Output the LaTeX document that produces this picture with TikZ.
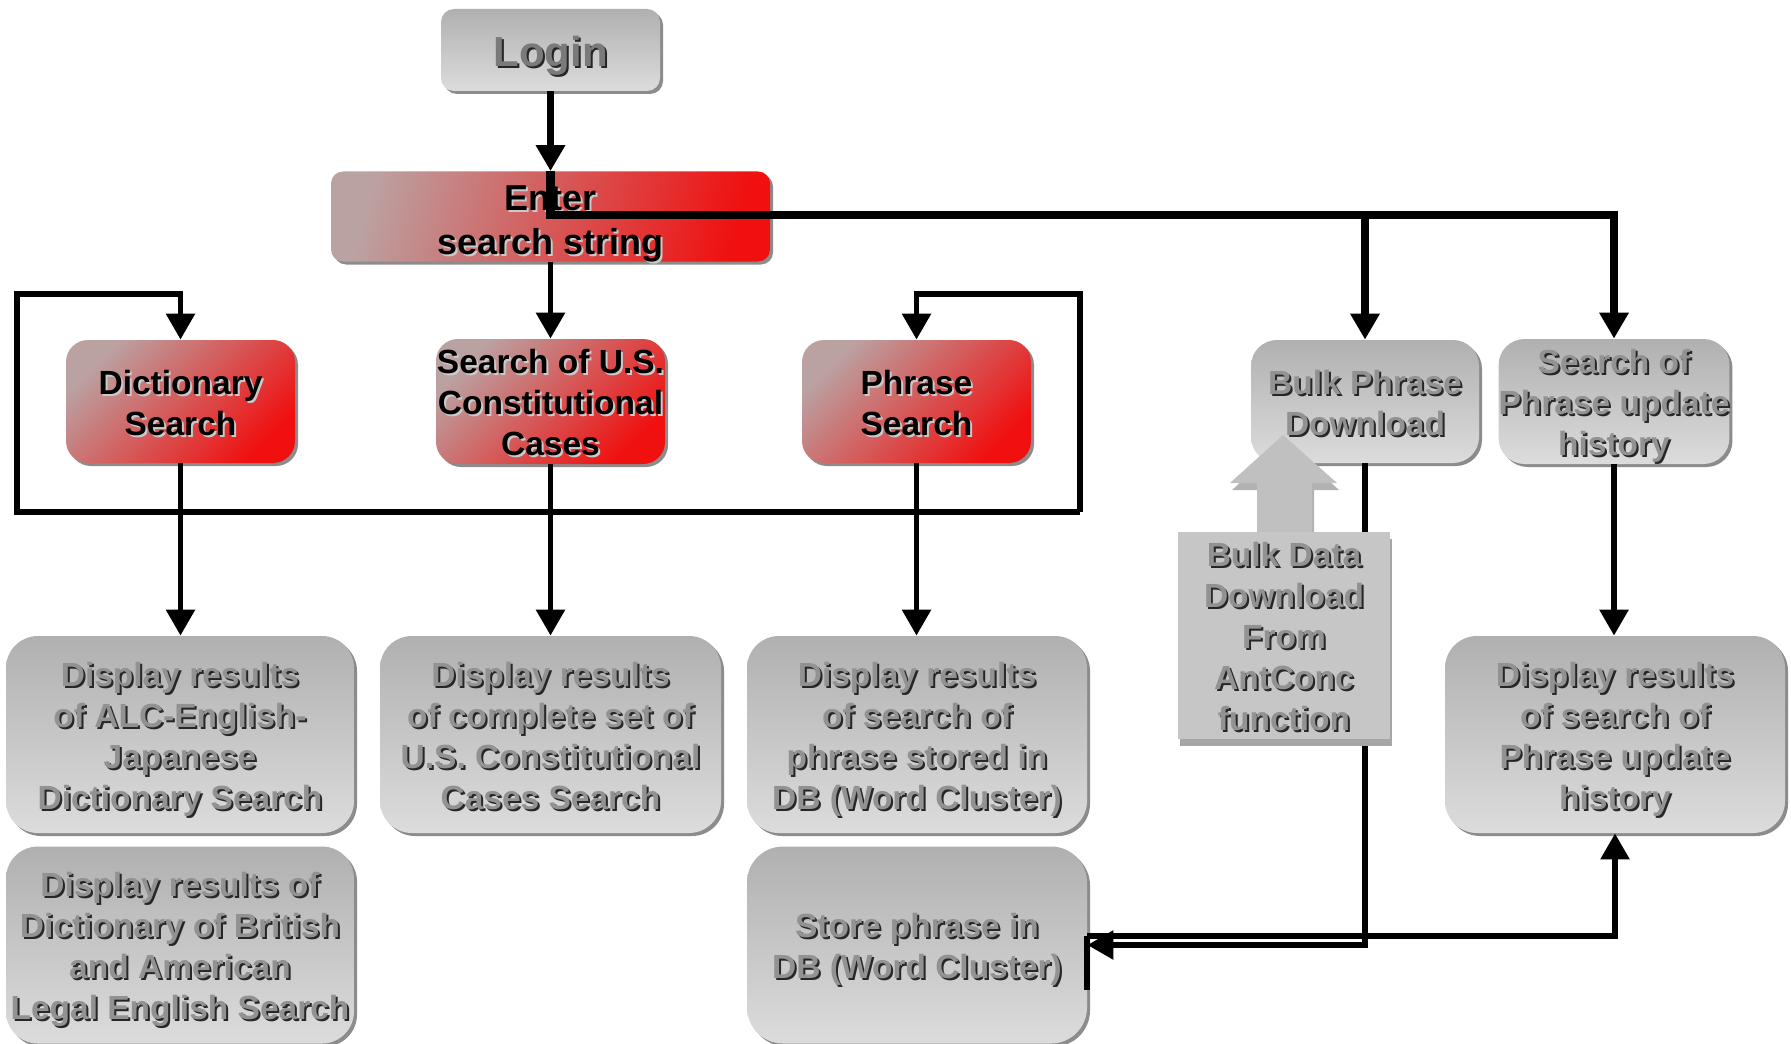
\documentclass[tikz,border=0pt]{standalone}
\usepackage{fontspec}
\setmainfont{Liberation Sans}
\usetikzlibrary{arrows.meta,shadows}
\definecolor{gT}{HTML}{B0B0B0}
\definecolor{gB}{HTML}{DCDCDC}
\definecolor{rTL}{HTML}{BBA2A2}
\definecolor{rBR}{HTML}{F01010}
\definecolor{shd}{HTML}{8C8C8C}
\definecolor{gtxt}{HTML}{929292}
\definecolor{gsh}{HTML}{262626}
\definecolor{logintxt}{HTML}{7A7A7A}
\definecolor{rsh}{HTML}{CACACA}
\definecolor{bdfill}{HTML}{C6C6C6}
\definecolor{bdsh}{HTML}{A6A6A6}
\definecolor{bigarr}{HTML}{C0C0C0}
\definecolor{bigarrsh}{HTML}{B2B2B2}
\newcommand\shtxt[4][3pt]{\raisebox{-#1}[\height][\depth]{\leavevmode\rlap{\kern1pt\raisebox{-1pt}{\color{#3}\begin{tabular}{@{}c@{}}#4\end{tabular}}}{\color{#2}\begin{tabular}{@{}c@{}}#4\end{tabular}}}}
\newcommand\gtx[1]{\shtxt{gtxt}{gsh}{#1}}
\newcommand\rtx[1]{\shtxt{black}{rsh}{#1}}
\newcommand\myBodyFont{\fontsize{16.75pt}{20.5pt}\selectfont\bfseries}
\begin{document}
\begin{tikzpicture}[x=0.5pt,y=-0.5pt,
  line/.style={line width=2.9pt, line join=miter},
  arr/.style={line, -{Triangle[width=14pt,length=13pt]}},
  bus/.style={line width=4.3pt},
  gbox/.style={rounded corners=13pt, top color=gT, bottom color=gB, draw=none,
    drop shadow={shadow xshift=1.5pt,shadow yshift=-1.5pt,fill=shd,opacity=1},
    inner sep=0pt, font=\myBodyFont},
  rbox/.style={rounded corners=11pt, top color=rTL, bottom color=rBR, shading angle=45, draw=none,
    drop shadow={shadow xshift=1.5pt,shadow yshift=-1.5pt,fill=shd,opacity=1},
    inner sep=0pt, font=\myBodyFont, minimum width=114.5pt, minimum height=61.5pt},
  small/.style={minimum width=114pt, minimum height=61.5pt},
  disp/.style={gbox, rounded corners=16pt, minimum width=170pt, minimum height=98.5pt}
]
\fill[white] (0,0) rectangle (1791,1043);
\useasboundingbox (0,0) rectangle (1791,1043);

% nodes
\node[gbox, rounded corners=6.5pt, minimum width=109.5pt, minimum height=41pt,
  font=\fontsize{21pt}{25pt}\selectfont\bfseries] (login) at (550.5,50) {\shtxt[4pt]{logintxt}{gsh}{Login}};
\node[rbox, rounded corners=6pt, top color=rTL, bottom color=rBR, shading angle=75,
  minimum width=219.5pt, minimum height=41.5pt,
  font=\fontsize{18pt}{22pt}\selectfont\bfseries] (enter) at (550.5,216.5) {\shtxt[4pt]{black}{rsh}{Enter\\search string}};

\node[rbox] (dict) at (180.5,401.5) {\rtx{Dictionary\\Search}};
\node[rbox] (usc) at (550.5,401.5) {\rtx{Search of U.S.\\Constitutional\\Cases}};
\node[rbox] (phr) at (916.5,401.5) {\rtx{Phrase\\Search}};
\node[gbox, small] (bulk) at (1365,401.5) {\gtx{Bulk Phrase\\Download}};
\node[gbox, small] (updh) at (1614,401.5) {\gtx{Search of\\Phrase update\\history}};

\node[disp, minimum width=174pt] (dalc) at (180,734.5) {\gtx{Display results\\of ALC-English-\\Japanese\\Dictionary Search}};
\node[disp, minimum width=170.5pt] (dusc) at (550.5,734.5) {\gtx{Display results\\of complete set of\\U.S. Constitutional\\Cases Search}};
\node[disp] (dphr) at (917,734.5) {\gtx{Display results\\of search of\\phrase stored in\\DB (Word Cluster)}};
\node[disp] (dupd) at (1615,734.5) {\gtx{Display results\\of search of\\Phrase update\\history}};
\node[disp, minimum width=174pt] (dbrit) at (180,945) {\gtx{Display results of\\Dictionary of British\\and American\\Legal English Search}};
\node[disp, rounded corners=18pt] (dstore) at (917,945) {\gtx{Store phrase in\\DB (Word Cluster)}};

% connectors
\coordinate (hj) at (550.5,215);
\coordinate (lt) at (17,294);
\coordinate (lb) at (17,512);
\coordinate (rb) at (1080,512);
\coordinate (rt) at (1080,294);
\coordinate (so) at (1087,936);
\coordinate (se) at (1087,990);

\draw[arr, line width=3.3pt] (login) -- (enter);
\draw[arr, bus] (enter.north) -- (hj) -| (updh.north);
\draw[arr, line width=4pt] (bulk.north |- hj) -- (bulk.north);
\draw[arr] (enter) -- (usc);
\draw[arr] (rb) -- (lb) -- (lt) -| (dict.north);
\draw[arr] (rb) -- (rt) -| (phr.north);
\draw[arr] (dict.south) -- (dict.south |- dalc.north);
\draw[arr] (usc.south) -- (usc.south |- dusc.north);
\draw[arr] (phr.south) -- (phr.south |- dphr.north);
\draw[arr] (updh.south) -- (updh.south |- dupd.north);
\draw[arr] (bulk.south) -- (bulk.south |- dstore.east) -- (dstore.east);
\draw[arr] (so) -| (dupd.south);
\draw[line, line width=3.2pt] (so) -- (se);

% big grey arrow and bulk data box
\fill[bigarrsh] (1285,442) -- (1339,490) -- (1314,490) -- (1314,536) -- (1259,536) -- (1259,490) -- (1232,490) -- cycle;
\fill[bigarr] (1283,435) -- (1337,483) -- (1312,483) -- (1312,536) -- (1257,536) -- (1257,483) -- (1230,483) -- cycle;
\node[fill=bdfill, draw=none, inner sep=0pt, minimum width=106pt, minimum height=99pt,
  general shadow={shadow xshift=1.2pt, shadow yshift=-3.5pt, fill=bdsh},
  font=\myBodyFont] (bdata) at (1284,635) {\gtx{Bulk Data\\Download\\From\\AntConc\\function}};
\end{tikzpicture}
\end{document}
